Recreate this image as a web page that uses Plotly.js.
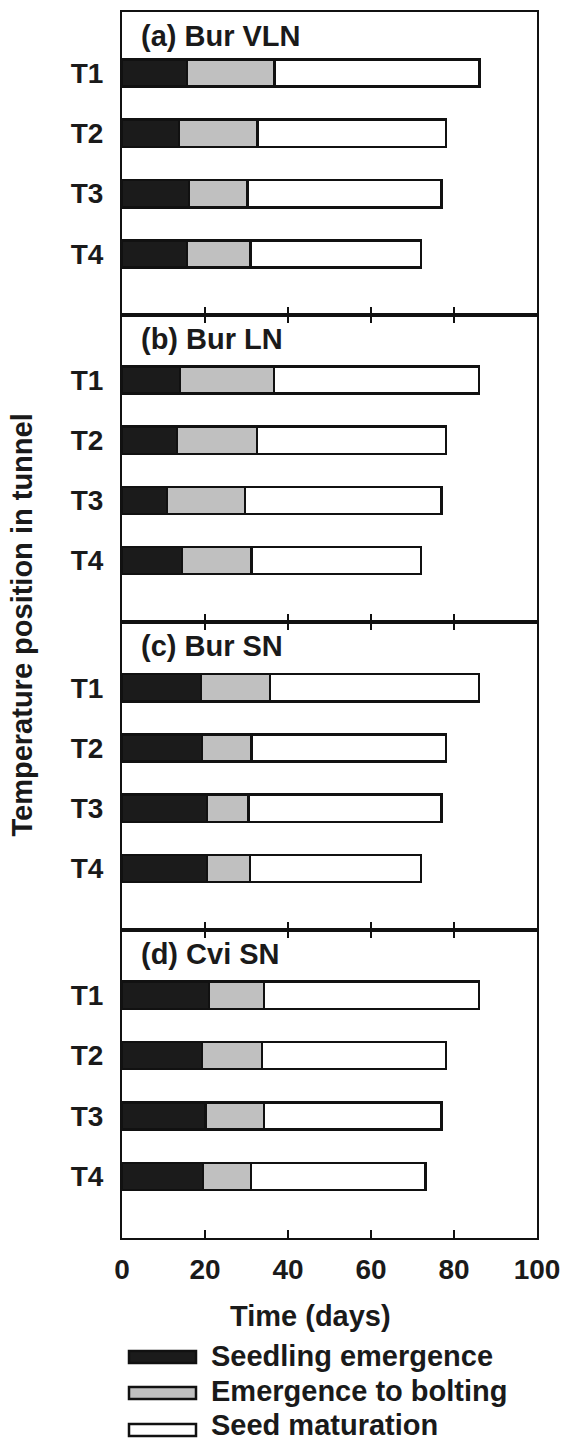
<!DOCTYPE html>
<html>
<head>
<meta charset="utf-8">
<script src="https://cdn.plot.ly/plotly-3.0.1.min.js"></script>
<style>
html,body{margin:0;padding:0;background:#fff;}
#chart{width:563px;height:1444px;}
</style>
</head>
<body>
<div id="chart"></div>
<script>
// ---- data (days) ----
const categories = ['T1', 'T2', 'T3', 'T4'];
const panelTitles = ['(a) Bur VLN', '(b) Bur LN', '(c) Bur SN', '(d) Cvi SN'];
const seriesNames = ['Seedling emergence', 'Emergence to bolting', 'Seed maturation'];

const seedlingA   = [15.7, 13.7, 16.2, 15.7];
const boltingA    = [21.1, 18.9, 14.0, 15.3];
const maturationA = [49.3, 45.5, 46.8, 41.1];

const seedlingB   = [14.0, 13.3, 10.8, 14.5];
const boltingB    = [22.6, 19.2, 18.8, 16.7];
const maturationB = [49.4, 45.6, 47.4, 40.9];

const seedlingC   = [19.0, 19.3, 20.5, 20.5];
const boltingC    = [16.7, 11.9, 10.0, 10.3];
const maturationC = [50.3, 46.9, 46.5, 41.3];

const seedlingD   = [21.0, 19.3, 20.1, 19.5];
const boltingD    = [13.2, 14.4, 14.1, 11.6];
const maturationD = [51.8, 44.4, 42.8, 42.0];

const xTickVals = [0, 20, 40, 60, 80, 100];
const xTickText = ['0', '20', '40', '60', '80', '100'];
const xTitle = 'Time (days)';
const yTitle = 'Temperature position in tunnel';

// ---- styling / layout ----
const FONT = 'Liberation Sans, Arial, sans-serif';
const TXT = '#1a1a1a';
const fills = ['#1b1b1b', '#c0c0c0', '#ffffff'];
const ML = 122, MR = 26, MT = 12, MB = 206, W = 563, H = 1444;
const PW = W - ML - MR, PH = H - MT - MB;
const px2x = px => (px - ML) / PW;
const py2y = py => (H - MB - py) / PH;

const panels = [
  [seedlingA, boltingA, maturationA],
  [seedlingB, boltingB, maturationB],
  [seedlingC, boltingC, maturationC],
  [seedlingD, boltingD, maturationD]
];
const bounds = [12, 315, 622, 930, 1238];
const yRanges = [[4.01, -1.01], [4.02, -1.08], [4.02, -1.09], [4.02, -1.08]];

const traces = [];
const layout = {
  width: W, height: H,
  margin: {l: ML, r: MR, t: MT, b: MB, pad: 0},
  paper_bgcolor: '#fff', plot_bgcolor: '#fff',
  barmode: 'stack',
  showlegend: false,
  font: {family: FONT, color: TXT, size: 28, weight: 'bold'},
  annotations: [],
  shapes: []
};

panels.forEach((p, i) => {
  const n = i === 0 ? '' : String(i + 1);
  p.forEach((vals, s) => {
    traces.push({
      type: 'bar', orientation: 'h',
      x: vals, y: categories,
      name: seriesNames[s],
      xaxis: 'x' + n, yaxis: 'y' + n,
      width: 0.45,
      marker: {color: fills[s], line: {color: '#111', width: 2.5}},
      hoverinfo: 'x+y+name'
    });
  });
  const top = bounds[i], bot = bounds[i + 1];
  layout['xaxis' + n] = {
    domain: [0, 1], anchor: 'y' + n,
    range: [0, 100], tickvals: xTickVals, ticktext: xTickText,
    ticks: 'inside', ticklen: 8, tickwidth: 2, tickcolor: '#111',
    showline: true, linewidth: 2, linecolor: '#111',
    mirror: i === 0 ? true : 'ticks',
    showgrid: false, zeroline: false,
    showticklabels: i === 3,
    ticklabelstandoff: 5,
    tickfont: {family: FONT, size: 28, color: TXT, weight: 'bold'}
  };
  layout['yaxis' + n] = {
    domain: [py2y(bot), py2y(top)], anchor: 'x' + n,
    type: 'category', categoryarray: categories,
    range: yRanges[i],
    ticks: '', showline: true, linewidth: 2, linecolor: '#111', mirror: true,
    showgrid: false, zeroline: false,
    ticklabelstandoff: 11,
    tickfont: {family: FONT, size: 28, color: TXT, weight: 'bold'}
  };
  layout.annotations.push({
    xref: 'paper', yref: 'paper',
    x: px2x(139), y: py2y(top + 24),
    xanchor: 'left', yanchor: 'middle',
    text: panelTitles[i], showarrow: false,
    font: {family: FONT, size: 29, color: TXT, weight: 'bold'}
  });
});

// axis titles
layout.annotations.push({
  xref: 'paper', yref: 'paper', x: px2x(310), y: py2y(1316),
  xanchor: 'center', yanchor: 'middle', text: xTitle, showarrow: false,
  font: {family: FONT, size: 29, color: TXT, weight: 'bold'}
});
layout.annotations.push({
  xref: 'paper', yref: 'paper', x: px2x(22), y: py2y(625.5),
  xanchor: 'center', yanchor: 'middle', text: yTitle, textangle: -90, showarrow: false,
  font: {family: FONT, size: 29, color: TXT, weight: 'bold'}
});

// legend drawn as swatches + text
const legendRows = [1357, 1393, 1430];
const legendTextY = [1356, 1391, 1425];
seriesNames.forEach((name, s) => {
  const cy = legendRows[s];
  layout.shapes.push({
    type: 'rect', xref: 'paper', yref: 'paper',
    x0: px2x(129), x1: px2x(196), y0: py2y(cy - 6), y1: py2y(cy + 6),
    fillcolor: fills[s], line: {color: '#111', width: 2.5}
  });
  layout.annotations.push({
    xref: 'paper', yref: 'paper', x: px2x(209), y: py2y(legendTextY[s]),
    xanchor: 'left', yanchor: 'middle', text: name, showarrow: false,
    font: {family: FONT, size: 29, color: TXT, weight: 'bold'}
  });
});

Plotly.newPlot('chart', traces, layout, {displayModeBar: false, staticPlot: true});
</script>
</body>
</html>
